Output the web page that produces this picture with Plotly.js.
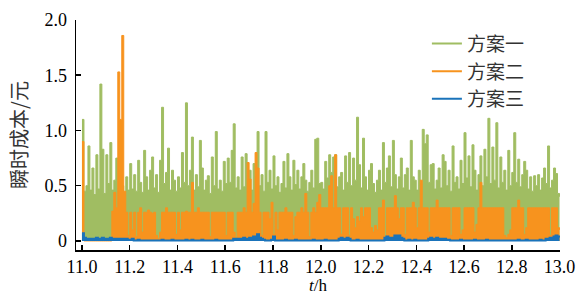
<!DOCTYPE html>
<html>
<head>
<meta charset="utf-8">
<script src="https://cdn.plot.ly/plotly-3.0.1.min.js"></script>
<style>html,body{margin:0;padding:0;background:#fff;}#chart{width:583px;height:295px;}</style>
</head>
<body>
<div id="chart"></div>
<script>
// Sampling grid: start hour and sample step (30 s)
const startHour = 11.0;
const stepHours = 1 / 120;

const seriesNames = ["方案一", "方案二", "方案三"];
const xTickVals = [11.0, 11.2, 11.4, 11.6, 11.8, 12.0, 12.2, 12.4, 12.6, 12.8, 13.0];
const yTickVals = [0, 0.5, 1.0, 1.5, 2.0];
const yTickText = ["0", "0.5", "1.0", "1.5", "2.0"];

// 方案一 instantaneous cost (元)
const plan1 = [
1.10,0.45,0.50,0.86,0.46,0.66,0.42,0.78,0.47,1.42,0.83,0.43,0.78,0.52,0.89,0.46,0.55,0.75,0.48,0.45,
0.50,0.44,0.58,0.46,0.70,0.47,0.60,0.45,0.73,0.53,0.44,0.82,0.58,0.46,0.64,0.76,0.48,0.60,0.44,0.73,
1.21,0.52,0.62,0.84,0.46,0.64,0.55,0.45,0.58,0.48,0.80,0.53,1.25,0.50,0.64,0.94,0.46,0.60,0.49,0.91,
0.66,0.46,0.55,0.59,0.43,0.76,0.50,0.99,0.47,0.55,0.45,0.72,0.52,0.75,0.53,0.82,1.06,0.48,0.58,0.46,
0.76,0.49,0.79,0.55,0.64,0.46,0.70,0.58,0.99,0.50,0.60,0.45,0.99,0.53,0.64,0.47,0.77,0.50,0.58,0.44,
0.52,0.72,0.48,0.79,0.58,0.46,0.73,0.51,0.64,0.47,0.58,0.70,0.55,0.45,0.53,0.64,0.48,0.92,0.93,0.52,
0.53,0.47,0.72,0.57,0.78,0.62,0.76,0.78,0.49,0.58,0.62,0.46,0.77,0.53,0.80,0.50,0.75,0.55,1.12,0.69,
0.48,0.93,0.58,0.46,0.64,0.70,0.52,0.44,0.55,0.64,0.46,0.89,0.53,0.66,0.77,0.49,0.91,0.60,0.47,0.58,
0.75,0.48,0.60,0.66,0.46,0.91,0.58,0.55,0.46,0.64,0.52,1.01,0.88,0.96,0.53,0.69,0.70,0.47,0.55,0.66,
0.48,0.78,0.72,0.50,0.64,0.45,0.86,0.53,0.58,0.47,0.73,0.52,0.98,0.57,0.77,0.49,0.87,0.64,0.46,0.60,
0.77,0.50,0.83,0.58,1.11,0.52,0.85,0.55,1.07,0.48,0.76,0.53,0.64,0.46,0.82,0.50,0.62,0.98,0.53,0.74,
0.49,0.60,0.72,0.64,0.47,0.58,0.45,0.59,0.50,0.60,0.46,0.57,0.66,0.52,0.86,0.48,0.55,0.66,0.61,0.43,
0.40];

// 方案二 instantaneous cost (元)
const plan2 = [
0.90,0,0,0,0,0,0,0,0,0,0,0,0,0,0,0.27,0.44,0.30,1.53,1.10,
1.86,0.45,0.26,0.05,0.26,0.10,0.26,0.04,0.26,0.30,0.08,0.26,0.26,0.28,0.26,0.25,0.26,0.05,0.02,0.08,
0.26,0.26,0.30,0.26,0.26,0.26,0.26,0.06,0.26,0.10,0.26,0.26,0.27,0.26,0.26,0.53,0.26,0.26,0.30,0.26,
0.26,0.26,0.26,0.26,0.04,0.26,0.26,0.26,0.26,0.26,0.26,0.26,0.05,0.26,0.26,0.26,0.08,0.03,0.26,0.26,
0.26,0.30,0.26,0.71,0.56,0.26,0.34,0.80,0.66,0.26,0.05,0.26,0.26,0.26,0.20,0.35,0.06,0.26,0.10,0.26,
0.26,0.26,0.30,0.26,0.26,0.26,0.05,0.22,0.26,0.26,0.30,0.26,0.43,0.26,0.04,0.26,0.30,0.26,0.35,0.42,
0.30,0.30,0.30,0.30,0.50,0.59,0.30,0.78,0.30,0.30,0.06,0.30,0.30,0.30,0.05,0.30,0.20,0.12,0.22,0.18,
0.30,0.22,0.30,0.30,0.30,0.12,0.08,0.14,0.10,0.30,0.30,0.37,0.04,0.30,0.30,0.30,0.30,0.41,0.30,0.20,
0.30,0.30,0.06,0.30,0.30,0.30,0.35,0.30,0.12,0.30,0.55,0.30,0.30,0.30,0.08,0.30,0.30,0.30,0.37,0.30,
0.30,0.30,0.30,0.30,0.30,0.05,0.30,0.30,0.30,0.30,0.06,0.10,0.30,0.30,0.30,0.30,0.30,0.08,0.15,0.30,
0.53,0.30,0.30,0.30,0.30,0.30,0.30,0.30,0.30,0.30,0.30,0.30,0.05,0.03,0.06,0.10,0.30,0.30,0.30,0.37,
0.30,0.30,0.06,0.12,0.30,0.30,0.30,0.30,0.30,0.30,0.30,0.30,0.30,0.30,0.30,0.05,0.30,0.30,0.30,0.12,
0.10];

// 方案三 instantaneous cost (元)
const plan3 = [
0.07,0.03,0.02,0.01,0.02,0.01,0.02,0.03,0.02,0.01,0.03,0.02,0.01,0.02,0.03,0.01,0.02,0.01,0.02,0.01,
0.02,0.01,0.02,0.01,0.01,0.02,0.005,0.005,0.01,0.005,0.005,0.005,0.005,0.005,0.005,0.005,0.005,0.005,0.005,0.005,
0.01,0.005,0.005,0.005,0.005,0.01,0.005,0.005,0.005,0.005,0.005,0.005,0.01,0.005,0.005,0.01,0.005,0.005,0.005,0.005,
0.01,0.005,0.005,0.005,0.005,0.005,0.005,0.01,0.005,0.005,0.005,0.005,0.005,0.005,0.005,0.005,0.02,0.02,0.01,0.02,
0.02,0.03,0.02,0.02,0.03,0.02,0.04,0.03,0.06,0.03,0.02,0.01,0.005,0.005,0.005,0.01,0.04,0.005,0.005,0.005,
0.005,0.005,0.01,0.005,0.005,0.005,0.005,0.01,0.005,0.005,0.005,0.005,0.005,0.005,0.005,0.005,0.01,0.005,0.005,0.005,
0.005,0.005,0.01,0.005,0.005,0.005,0.005,0.005,0.005,0.02,0.03,0.02,0.02,0.03,0.02,0.005,0.005,0.005,0.01,0.005,
0.005,0.005,0.005,0.005,0.005,0.005,0.005,0.005,0.005,0.005,0.005,0.005,0.03,0.04,0.03,0.03,0.03,0.05,0.03,0.05,
0.03,0.02,0.005,0.005,0.01,0.005,0.005,0.01,0.005,0.005,0.005,0.005,0.005,0.005,0.02,0.03,0.02,0.02,0.03,0.02,
0.02,0.01,0.02,0.01,0.01,0.005,0.005,0.005,0.005,0.005,0.01,0.005,0.005,0.005,0.005,0.005,0.005,0.01,0.005,0.005,
0.005,0.005,0.005,0.01,0.005,0.005,0.005,0.005,0.005,0.005,0.005,0.005,0.005,0.005,0.005,0.005,0.005,0.005,0.005,0.01,
0.005,0.005,0.005,0.01,0.005,0.005,0.005,0.005,0.005,0.005,0.01,0.005,0.005,0.02,0.02,0.03,0.03,0.04,0.05,0.04,
0.05];

const timeHours = plan1.map((_, i) => startHour + i * stepHours);

const colors = ["#a0bd62", "#f7931e", "#1a73ba"];
const seriesData = [plan1, plan2, plan3];
const widths = [1, 1, 2];

const traces = [];
seriesData.forEach((vals, k) => {
  traces.push({
    x: timeHours, y: vals, type: "scatter", mode: "lines",
    line: {color: colors[k], width: widths[k], shape: "hv"},
    fill: "tozeroy", fillcolor: colors[k],
    showlegend: false, hoverinfo: "skip"
  });
});
seriesNames.forEach((name, k) => {
  traces.push({
    x: [null], y: [null], type: "scatter", mode: "lines", name: name,
    line: {color: colors[k], width: 2}
  });
});

const layout = {
  width: 583, height: 295,
  margin: {l: 76, r: 23, t: 20, b: 45, pad: 0},
  paper_bgcolor: "#fff", plot_bgcolor: "#fff",
  showlegend: true,
  legend: {x: 0.725, y: 0.98, xanchor: "left", yanchor: "top",
    bgcolor: "rgba(0,0,0,0)", borderwidth: 0,
    font: {family: "Noto Sans CJK SC", size: 19, color: "#333"}, tracegroupgap: 0},
  xaxis: {
    range: [10.975, 13.002], tickvals: xTickVals, tickformat: ".1f",
    ticks: "inside", ticklen: 5, tickwidth: 1.5, tickcolor: "#000",
    showline: true, linecolor: "#000", linewidth: 1.5, showgrid: false, zeroline: false,
    tickfont: {family: "Liberation Serif", size: 18, color: "#000"},
    title: {text: "<i>t</i>/h", font: {family: "Liberation Serif", size: 17, color: "#000"}, standoff: 6}
  },
  yaxis: {
    range: [-0.082, 2.0], tickvals: yTickVals, ticktext: yTickText,
    ticks: "inside", ticklen: 5, tickwidth: 1.5, tickcolor: "#000",
    showline: true, linecolor: "#000", linewidth: 1.5, showgrid: false, zeroline: false,
    ticklabelstandoff: 4,
    tickfont: {family: "Liberation Serif", size: 18, color: "#000"},
    title: {text: "瞬时成本/元", font: {family: "Noto Sans CJK SC", size: 20, color: "#333"}, standoff: 11}
  }
};

Plotly.newPlot("chart", traces, layout, {displayModeBar: false, staticPlot: true});
</script>
</body>
</html>
